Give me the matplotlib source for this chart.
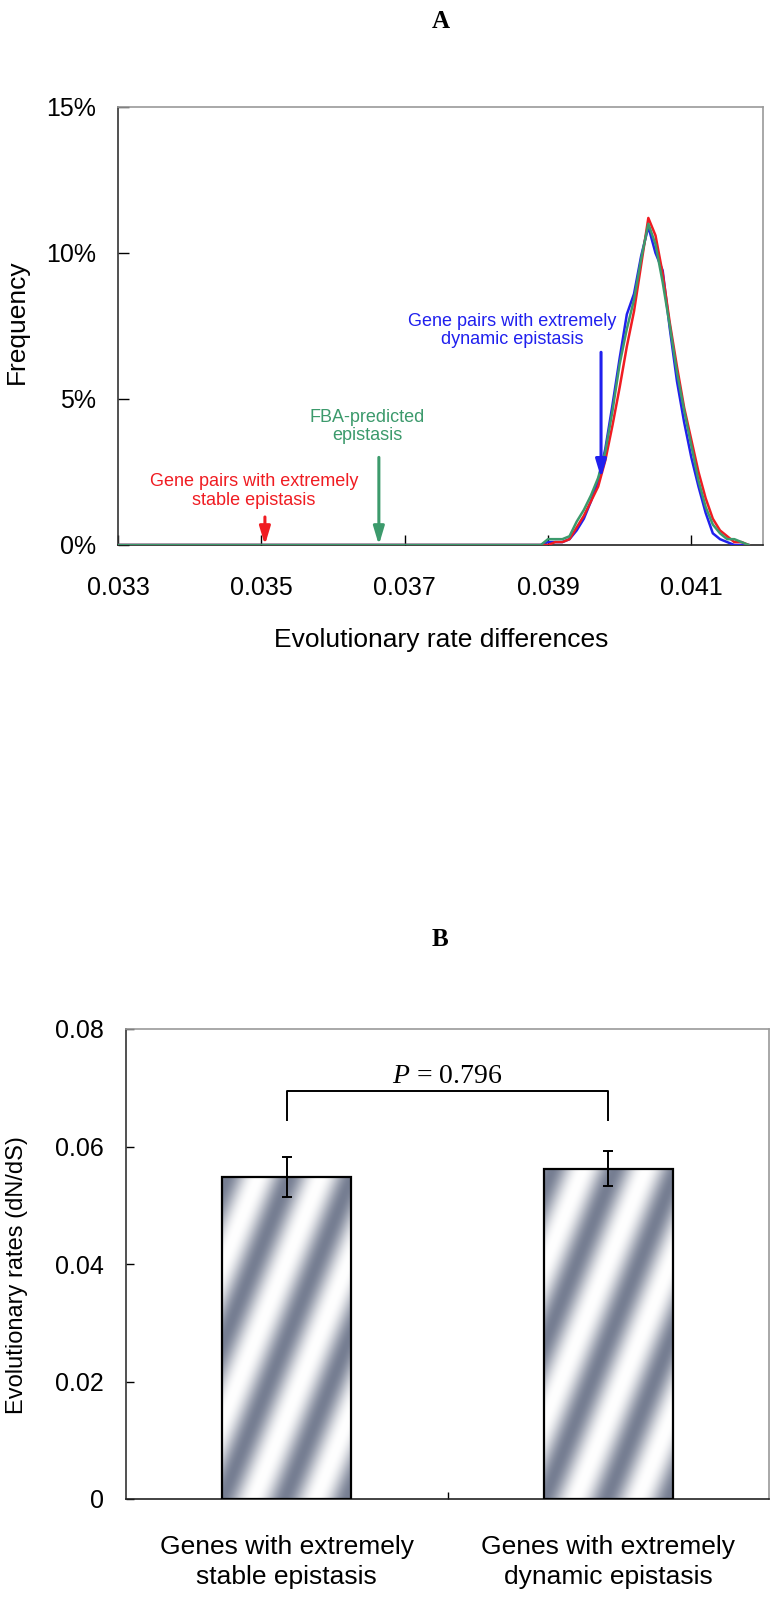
import numpy as np
import matplotlib
matplotlib.use('Agg')
import matplotlib.pyplot as plt
from matplotlib import font_manager

# ---- data: panel A (frequency distributions of rate differences, %) ----
rate_x = [0.0330, 0.0389, 0.0390, 0.0391, 0.0392, 0.0393, 0.0394, 0.0395, 0.0396, 0.0397,
          0.0398, 0.0399, 0.0400, 0.0401, 0.0402, 0.0403, 0.0404, 0.0405, 0.0406, 0.0407,
          0.0408, 0.0409, 0.0410, 0.0411, 0.0412, 0.0413, 0.0414, 0.0415, 0.0416, 0.0417,
          0.0418]
freq_blue = [0, 0, 0.1, 0.1, 0.1, 0.2, 0.5, 0.9, 1.5, 2.2, 3.3, 4.8, 6.4, 7.9, 8.6, 9.9,
             10.9, 10.0, 9.4, 7.4, 5.6, 4.2, 3.0, 2.0, 1.1, 0.4, 0.2, 0.1, 0.0, 0.0, 0]
freq_red = [0, 0, 0.0, 0.1, 0.1, 0.2, 0.6, 1.0, 1.5, 2.0, 2.9, 4.1, 5.4, 6.8, 8.0, 9.6,
            11.2, 10.6, 9.3, 7.6, 6.1, 4.7, 3.6, 2.5, 1.6, 0.9, 0.5, 0.3, 0.1, 0.1, 0]
freq_green = [0, 0, 0.2, 0.2, 0.2, 0.3, 0.8, 1.2, 1.7, 2.3, 3.2, 4.6, 6.2, 7.4, 8.4, 9.8,
              11.0, 10.3, 9.0, 7.5, 5.9, 4.6, 3.4, 2.2, 1.3, 0.7, 0.4, 0.2, 0.2, 0.1, 0]

# arrows: x position, top (%), tip (%)
stable_arrow = (0.03505, 0.96, 0.0)
fba_arrow = (0.03664, 3.0, 0.0)
dynamic_arrow = (0.03974, 6.6, 2.3)

xticks_a = [0.033, 0.035, 0.037, 0.039, 0.041]
yticks_a = [0, 5, 10, 15]

# ---- data: panel B (dN/dS) ----
gene_groups = ['Genes with extremely\nstable epistasis', 'Genes with extremely\ndynamic epistasis']
dnds_mean = [0.0548, 0.0562]
dnds_err = [0.0034, 0.0030]
p_value = 0.796
yticks_b = [0, 0.02, 0.04, 0.06, 0.08]
yticklabels_b = ['0', '0.02', '0.04', '0.06', '0.08']

RED = '#f01c22'
BLUE = '#2020ee'
GREEN = '#3c9a6c'

available = {f.name for f in font_manager.fontManager.ttflist}
sans = 'Liberation Sans' if 'Liberation Sans' in available else 'DejaVu Sans'
narrow = 'Liberation Sans Narrow' if 'Liberation Sans Narrow' in available else sans
plt.rcParams['font.family'] = [sans, 'DejaVu Sans']
plt.rcParams['mathtext.fontset'] = 'custom'
plt.rcParams['mathtext.it'] = 'Liberation Serif:italic'
plt.rcParams['mathtext.rm'] = 'Liberation Serif'

W, H = 776, 1599
fig = plt.figure(figsize=(W / 100, H / 100), dpi=100)

def box(l, t, r, b):
    return [l / W, 1 - b / H, (r - l) / W, (b - t) / H]

def style_spines(ax):
    ax.spines['left'].set_color('#333333')
    ax.spines['bottom'].set_color('#222222')
    ax.spines['top'].set_color('#9a9a9a')
    ax.spines['right'].set_color('#9a9a9a')
    for s in ax.spines.values():
        s.set_linewidth(1.2)

# ================= Panel A =================
axA = fig.add_axes(box(118, 107, 763, 545))
axA.plot(rate_x, freq_blue, color=BLUE, lw=1.8, zorder=3)
axA.plot(rate_x, freq_red, color=RED, lw=1.8, zorder=3)
axA.plot(rate_x, freq_green, color=GREEN, lw=1.8, zorder=4)
axA.set_xlim(0.033, 0.0420)
axA.set_ylim(0, 15)
axA.set_xticks(xticks_a)
axA.set_xticklabels([f'{v:.3f}' for v in xticks_a], fontfamily=narrow, fontsize=18)
axA.set_yticks(yticks_a)
axA.set_yticklabels([f'{v}%' for v in yticks_a], fontfamily=narrow, fontsize=18)
axA.tick_params(axis='x', direction='in', length=7, width=1, pad=22)
axA.tick_params(axis='y', direction='in', length=8, width=1, pad=16)
style_spines(axA)

for (ax_x, top, tip), col in [(stable_arrow, RED), (fba_arrow, GREEN), (dynamic_arrow, BLUE)]:
    axA.annotate('', xy=(ax_x, tip), xytext=(ax_x, top),
                 arrowprops=dict(arrowstyle='-|>,head_length=0.6,head_width=0.18',
                                 color=col, lw=2.2, mutation_scale=18, shrinkA=0, shrinkB=0),
                 zorder=5)

axA.text(0.03490, 1.85, 'Gene pairs with extremely\nstable epistasis', color=RED,
         fontsize=13, ha='center', va='center', linespacing=1.1)
axA.text(0.03648, 4.05, 'FBA-predicted\nepistasis', color=GREEN,
         fontsize=13, ha='center', va='center', linespacing=1.1)
axA.text(0.03850, 7.35, 'Gene pairs with extremely\ndynamic epistasis', color=BLUE,
         fontsize=13, ha='center', va='center', linespacing=1.1)

fig.text(441 / W, 1 - 21 / H, 'A', fontfamily='Liberation Serif', fontweight='bold',
         fontsize=18, ha='center', va='center')
fig.text(17 / W, 1 - 322 / H, 'Frequency', rotation=90, fontsize=19, ha='center', va='center')
fig.text(441 / W, 1 - 640 / H, 'Evolutionary rate differences', fontsize=19,
         ha='center', va='center')

# ================= Panel B =================
axB = fig.add_axes(box(126, 1029, 769, 1499))
xpos = [0.5, 1.5]
axB.set_xlim(0, 2)
axB.set_ylim(0, 0.08)
bars = axB.bar(xpos, dnds_mean, width=0.4, facecolor='none', edgecolor='black',
               linewidth=1.6, zorder=3)
axB.errorbar(xpos, dnds_mean, yerr=dnds_err, fmt='none', ecolor='black',
             elinewidth=1.4, capsize=3.8, capthick=1.4, zorder=4)

# striped metallic fill inside each bar
dark = np.array([118, 126, 146]) / 255.0
for bar in bars:
    x0, y0 = bar.get_x(), bar.get_y()
    bw, bh = bar.get_width(), bar.get_height()
    p0 = axB.transData.transform((x0, y0))
    p1 = axB.transData.transform((x0 + bw, y0 + bh))
    wpx, hpx = int(p1[0] - p0[0]), int(p1[1] - p0[1])
    xx, yy = np.meshgrid(np.arange(wpx), np.arange(hpx))
    phase = (xx - 0.40 * yy) / 62.0 * 2 * np.pi
    v = (0.5 + 0.5 * np.cos(phase)) ** 1.2
    rgb = 1 - v[..., None] * (1 - dark)
    im = axB.imshow(rgb, extent=(x0, x0 + bw, y0, y0 + bh), origin='lower',
                    aspect='auto', interpolation='bilinear', zorder=2)
    im.set_clip_path(bar)

axB.set_xlim(0, 2)
axB.set_ylim(0, 0.08)

# significance bracket
br_y, br_drop = 0.0695, 0.0050
axB.plot([xpos[0], xpos[0], xpos[1], xpos[1]],
         [br_y - br_drop, br_y, br_y, br_y - br_drop], color='black', lw=1.4, zorder=4)
axB.text(np.mean(xpos), br_y + 0.0013, r'$P$ = ' + f'{p_value:.3f}',
         fontfamily='Liberation Serif', fontsize=20, ha='center', va='baseline')

axB.set_xticks([1.0])
axB.set_xticklabels([])
axB.set_xticks(xpos, minor=True)
axB.set_xticklabels(gene_groups, minor=True, fontsize=19, linespacing=1.3)
axB.tick_params(axis='x', which='minor', length=0, pad=26)
axB.tick_params(axis='x', which='major', direction='in', length=5, width=1)
axB.set_yticks(yticks_b)
axB.set_yticklabels(yticklabels_b, fontfamily=narrow, fontsize=18)
axB.tick_params(axis='y', direction='in', length=6, width=1, pad=16)
style_spines(axB)

fig.text(440 / W, 1 - 940 / H, 'B', fontfamily='Liberation Serif', fontweight='bold',
         fontsize=18, ha='center', va='center')
fig.text(17 / W, 1 - 1275 / H, 'Evolutionary rates (dN/dS)', rotation=90, fontsize=17,
         ha='center', va='center')

fig.savefig('out.png', dpi=100, facecolor='white')
